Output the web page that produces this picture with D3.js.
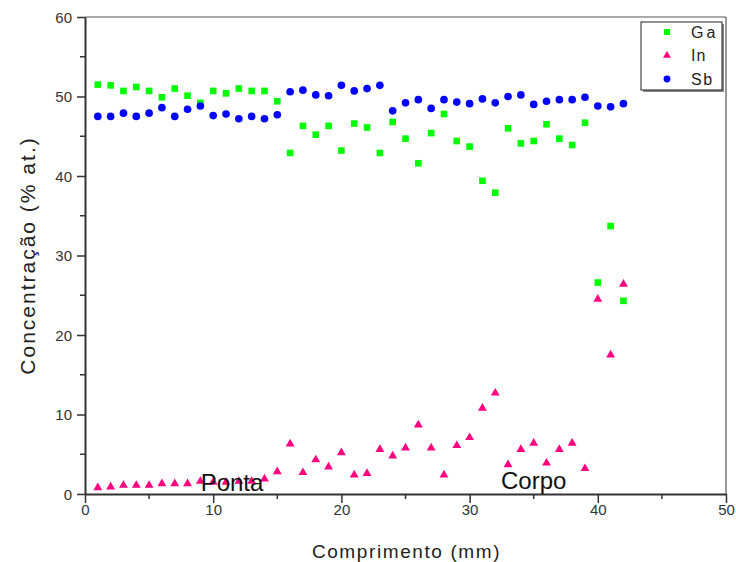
<!DOCTYPE html>
<html><head><meta charset="utf-8">
<script src="https://cdn.jsdelivr.net/npm/d3@7/dist/d3.min.js"></script>
<style>body{margin:0;background:#fff}svg{display:block}text{font-family:"Liberation Sans",Arial,sans-serif}</style>
</head><body><svg id="c" width="736" height="562"></svg>
<script>
const positions = [1,2,3,4,5,6,7,8,9,10,11,12,13,14,15,16,17,18,19,20,21,22,23,24,25,26,27,28,29,30,31,32,33,34,35,36,37,38,39,40,41,42];
const ga = [51.5,51.4,50.7,51.2,50.7,49.9,51.0,50.1,49.2,50.7,50.4,51.0,50.7,50.7,49.4,42.9,46.3,45.2,46.3,43.2,46.6,46.1,42.9,46.8,44.7,41.6,45.4,47.8,44.4,43.7,39.4,37.9,46.0,44.1,44.4,46.5,44.7,43.9,46.7,26.6,33.7,24.3];
const inn = [0.8,0.9,1.1,1.1,1.1,1.3,1.3,1.3,1.6,1.5,1.5,1.6,1.6,1.9,2.8,6.3,2.7,4.3,3.4,5.2,2.4,2.6,5.6,4.8,5.8,8.7,5.8,2.4,6.1,7.1,10.8,12.7,3.7,5.6,6.4,3.9,5.6,6.4,3.2,24.5,17.5,26.4];
const sb = [47.5,47.5,47.9,47.5,47.9,48.6,47.5,48.4,48.8,47.6,47.8,47.2,47.5,47.2,47.7,50.6,50.8,50.2,50.1,51.4,50.7,51.0,51.4,48.2,49.2,49.6,48.5,49.6,49.3,49.1,49.7,49.2,50.0,50.2,49.0,49.4,49.6,49.6,49.9,48.8,48.7,49.1];
const seriesNames = ["Ga","In","Sb"];
const xTicks = [0,10,20,30,40,50];
const yTicks = [0,10,20,30,40,50,60];
const annotations = [{text:"Ponta", x:9.02, y:0.38},{text:"Corpo", x:32.45, y:0.63}];

const svg = d3.select("#c");
const L=85, R=726, T=17, B=494;
const x = d3.scaleLinear().domain([0,50]).range([L,R]);
const y = d3.scaleLinear().domain([0,60]).range([B,T]);

svg.append("line").attr("x1",L).attr("x2",R).attr("y1",T).attr("y2",T).attr("stroke","#555").attr("stroke-width",1);
svg.append("line").attr("x1",R).attr("x2",R).attr("y1",T).attr("y2",B).attr("stroke","#555").attr("stroke-width",1.2);

const xMinor = [5,15,25,35,45];
const yMinor = [5,15,25,35,45,55];
svg.append("g").selectAll("line").data(xMinor).join("line")
  .attr("x1",d=>x(d)).attr("x2",d=>x(d)).attr("y1",B).attr("y2",B+5).attr("stroke","#333").attr("stroke-width",1.5);
svg.append("g").selectAll("line").data(yMinor).join("line")
  .attr("y1",d=>y(d)).attr("y2",d=>y(d)).attr("x1",L).attr("x2",L-5).attr("stroke","#333").attr("stroke-width",1.5);

const xAxis = svg.append("g").attr("transform",`translate(0,${B})`)
  .call(d3.axisBottom(x).tickValues(xTicks).tickSize(9).tickPadding(1).tickSizeOuter(0));
const yAxis = svg.append("g").attr("transform",`translate(${L},0)`)
  .call(d3.axisLeft(y).tickValues(yTicks).tickSize(8).tickPadding(5).tickSizeOuter(0));
[xAxis,yAxis].forEach(g=>{
  g.select(".domain").attr("stroke","#333").attr("stroke-width",2);
  g.selectAll(".tick line").attr("stroke","#333").attr("stroke-width",1.5);
  g.selectAll(".tick text").attr("fill","#333").style("font-size","15px").style("font-family","'Liberation Sans',Arial,sans-serif");
});
yAxis.selectAll(".tick text").attr("dy","0.36em");

svg.append("text").attr("x",(L+R)/2+1).attr("y",558).attr("text-anchor","middle")
  .style("font-size","19px").style("letter-spacing","1.6px").attr("fill","#222").text("Comprimento (mm)");
svg.append("text").attr("transform",`translate(35,${(T+B)/2}) rotate(-90)`).attr("text-anchor","middle")
  .style("font-size","21px").style("letter-spacing","2px").attr("fill","#222").text("Concentração (% at.)");

const colors = {Ga:"#00ff00", In:"#ff0080", Sb:"#0000ff"};
const data = {Ga:ga, In:inn, Sb:sb};
const sym = {Ga:d3.symbolSquare, In:d3.symbolTriangle, Sb:d3.symbolCircle};
const size = {Ga:44, In:34, Sb:46};

seriesNames.forEach(n=>{
  svg.append("g").selectAll("path").data(positions.map((p,i)=>[p,data[n][i]])).join("path")
    .attr("transform",d=>`translate(${x(d[0])},${y(d[1])})`)
    .attr("d",d3.symbol().type(sym[n]).size(size[n])).attr("fill",colors[n]);
});

svg.append("g").selectAll("text").data(annotations).join("text")
  .attr("x",d=>x(d.x)).attr("y",d=>y(d.y)).style("font-size","24px").attr("fill","#111").text(d=>d.text);

const lg = svg.append("g");
lg.append("rect").attr("x",643).attr("y",24).attr("width",81).attr("height",68).attr("fill","#888");
lg.append("rect").attr("x",641).attr("y",22).attr("width",81).attr("height",68).attr("fill","#fff").attr("stroke","#222").attr("stroke-width",1);
const lgSpacing = {Ga:"3px", In:"1px", Sb:"1.5px"};
seriesNames.forEach((n,i)=>{
  const cy = 32 + i*23.5;
  lg.append("path").attr("transform",`translate(667,${cy})`).attr("d",d3.symbol().type(sym[n]).size(size[n]*0.8)).attr("fill",colors[n]);
  lg.append("text").attr("x",691).attr("y",cy).attr("dy","0.36em").style("font-size","16px").style("letter-spacing",lgSpacing[n]).attr("fill","#222").text(n);
});
</script></body></html>
